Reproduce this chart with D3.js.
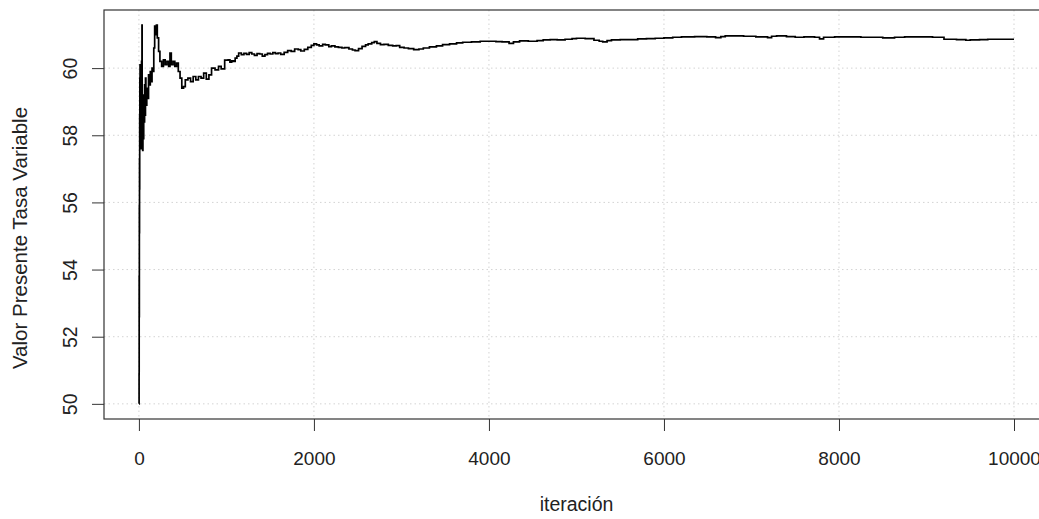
<!DOCTYPE html>
<html>
<head>
<meta charset="utf-8">
<script src="https://cdn.jsdelivr.net/npm/d3@7"></script>
<style>
  body { margin: 0; background: #fff; }
  text { font-family: "Liberation Sans", Arial, sans-serif; fill: #222; }
</style>
</head>
<body>
<div id="chart"></div>
<script>
// Iteraciones (eje x)
const iteraciones = [
  1, 2, 3, 4, 5, 6, 7, 8, 9, 10,
  11, 12, 13, 14, 15, 16, 18, 20, 22, 24,
  26, 28, 30, 33, 35, 37, 40, 43, 46, 50,
  55, 60, 65, 70, 75, 80, 90, 100, 110, 120,
  130, 140, 150, 160, 170, 180, 190, 200, 210, 225,
  240, 260, 280, 300, 320, 340, 355, 370, 390, 410,
  430, 450, 470, 490, 510, 530, 560, 590, 620, 650,
  680, 710, 740, 770, 800, 830, 870, 910, 940, 980,
  1020, 1040, 1060, 1080, 1100, 1120, 1140, 1170, 1200, 1230,
  1260, 1290, 1320, 1350, 1380, 1410, 1440, 1470, 1500, 1530,
  1560, 1590, 1620, 1660, 1700, 1740, 1780, 1820, 1850, 1890,
  1930, 1970, 2000, 2030, 2060, 2100, 2130, 2170, 2200, 2240,
  2280, 2320, 2350, 2400, 2440, 2470, 2510, 2550, 2590, 2620,
  2660, 2690, 2720, 2760, 2800, 2850, 2900, 2940, 2980, 3030,
  3080, 3140, 3200, 3250, 3320, 3400, 3470, 3550, 3630, 3700,
  3800, 3900, 4000, 4080, 4150, 4230, 4280, 4350, 4450, 4550,
  4620, 4700, 4780, 4870, 4950, 5000, 5100, 5200, 5260, 5300,
  5350, 5400, 5500, 5620, 5700, 5800, 5900, 6000, 6100, 6200,
  6350, 6490, 6590, 6650, 6700, 6800, 6910, 7050, 7184, 7230,
  7287, 7400, 7500, 7600, 7721, 7778, 7824, 7950, 8100, 8250,
  8372, 8500, 8635, 8750, 8900, 9069, 9200, 9343, 9450, 9500,
  9606, 9700, 9800, 10000
];

// Valor presente (tasa variable), promedio acumulado
const valores = [
  50.0, 50.9, 53.8, 52.6, 55.9, 55.1, 57.3, 56.4, 58.6, 57.8,
  59.7, 58.9, 60.1, 58.7, 59.5, 58.2, 59.3, 57.9, 58.8, 57.6,
  59.0, 58.3, 60.2, 59.8, 61.28, 59.0, 58.1, 57.55, 58.4, 57.9,
  59.2, 58.4, 59.5, 58.6, 59.7, 58.9, 59.4, 59.1, 59.8, 59.5,
  59.9, 59.6, 60.0, 59.9, 60.6, 61.25, 61.0, 61.28, 60.9, 60.5,
  60.2, 60.05, 60.25, 60.1, 60.2, 60.05, 60.45, 60.1, 60.2, 60.05,
  60.15, 59.9, 59.7, 59.4, 59.45, 59.65, 59.7, 59.6, 59.75, 59.65,
  59.75, 59.7, 59.85, 59.67, 59.8, 60.0, 59.95, 60.05, 59.98, 60.24,
  60.25, 60.18, 60.22, 60.2, 60.3, 60.36, 60.45, 60.4, 60.44, 60.41,
  60.46, 60.42, 60.38, 60.43, 60.42, 60.36, 60.4, 60.44, 60.42, 60.46,
  60.43, 60.45, 60.41, 60.47, 60.52, 60.5, 60.57, 60.55, 60.51, 60.56,
  60.62, 60.68, 60.72, 60.69, 60.66, 60.71, 60.69, 60.64, 60.66, 60.63,
  60.62, 60.6, 60.61, 60.57, 60.54, 60.52, 60.58, 60.65, 60.69, 60.72,
  60.76, 60.79, 60.74, 60.7, 60.71, 60.68, 60.66, 60.67, 60.62, 60.6,
  60.58, 60.55, 60.57, 60.6, 60.63, 60.66, 60.7, 60.72, 60.75, 60.77,
  60.78, 60.8, 60.8, 60.79, 60.78, 60.74, 60.78, 60.81, 60.8, 60.82,
  60.84, 60.85, 60.84, 60.86, 60.88, 60.89, 60.88, 60.83, 60.8, 60.78,
  60.82, 60.84, 60.85, 60.85, 60.87, 60.88, 60.89, 60.9, 60.92, 60.93,
  60.94, 60.93, 60.91, 60.94, 60.96, 60.96, 60.95, 60.93, 60.91, 60.95,
  60.96, 60.94, 60.92, 60.93, 60.92, 60.87, 60.92, 60.93, 60.93, 60.92,
  60.92, 60.9, 60.92, 60.93, 60.93, 60.92, 60.86, 60.85, 60.83, 60.84,
  60.85, 60.86, 60.86, 60.86
];

// Marcas de los ejes
const xTicks = [0, 2000, 4000, 6000, 8000, 10000];
const yTicks = [50, 52, 54, 56, 58, 60];

const data = iteraciones.map((it, i) => ({ it, v: valores[i] }));

// Tamaño del SVG y región del gráfico (el borde derecho queda fuera de la ventana)
const width = 1039;
const height = 519;
const plot = { left: 104, right: 1049, top: 10, bottom: 419 };

const svg = d3.select("#chart")
  .append("svg")
  .attr("width", width)
  .attr("height", height);

// Escalas con la extensión del 4% como en R
const xExt = d3.extent(iteraciones);
const xPad = (xExt[1] - xExt[0]) * 0.04;
const x = d3.scaleLinear()
  .domain([xExt[0] - xPad, xExt[1] + xPad])
  .range([plot.left, plot.right]);

const yExt = d3.extent(valores);
const yPad = (yExt[1] - yExt[0]) * 0.04;
const y = d3.scaleLinear()
  .domain([yExt[0] - yPad, yExt[1] + yPad])
  .range([plot.bottom, plot.top]);

// Cuadrícula punteada
svg.append("g")
  .selectAll("line")
  .data(xTicks)
  .join("line")
  .attr("x1", d => x(d)).attr("x2", d => x(d))
  .attr("y1", plot.top).attr("y2", plot.bottom)
  .attr("stroke", "#d3d3d3")
  .attr("stroke-dasharray", "1.5,3");

svg.append("g")
  .selectAll("line")
  .data(yTicks)
  .join("line")
  .attr("x1", plot.left).attr("x2", plot.right)
  .attr("y1", d => y(d)).attr("y2", d => y(d))
  .attr("stroke", "#d3d3d3")
  .attr("stroke-dasharray", "1.5,3");

// Línea de la serie
svg.append("path")
  .datum(data)
  .attr("fill", "none")
  .attr("stroke", "#000")
  .attr("stroke-width", 1.7)
  .attr("d", d3.line().x(d => x(d.it)).y(d => y(d.v)).curve(d3.curveStepAfter));

// Marco
svg.append("rect")
  .attr("x", plot.left)
  .attr("y", plot.top)
  .attr("width", plot.right - plot.left)
  .attr("height", plot.bottom - plot.top)
  .attr("fill", "none")
  .attr("stroke", "#333")
  .attr("stroke-width", 1.2);

// Eje x
const xAxis = svg.append("g")
  .attr("transform", `translate(0,${plot.bottom})`)
  .call(d3.axisBottom(x).tickValues(xTicks).tickSize(12).tickFormat(d3.format("d")));
xAxis.select(".domain").remove();
xAxis.selectAll(".tick line").attr("stroke", "#333");
xAxis.selectAll(".tick text")
  .attr("font-size", "19px")
  .attr("font-family", "Liberation Sans, Arial, sans-serif")
  .attr("fill", "#222")
  .attr("y", 46)
  .attr("dy", 0);

// Eje y
const yAxis = svg.append("g")
  .attr("transform", `translate(${plot.left},0)`)
  .call(d3.axisLeft(y).tickValues(yTicks).tickSize(12));
yAxis.select(".domain").remove();
yAxis.selectAll(".tick line").attr("stroke", "#333");
yAxis.selectAll(".tick text")
  .attr("font-size", "19.5px")
  .attr("font-family", "Liberation Sans, Arial, sans-serif")
  .attr("fill", "#222")
  .attr("text-anchor", "middle")
  .attr("x", 0).attr("dy", 0)
  .attr("transform", `translate(${77 - plot.left},0) rotate(-90)`);

// Títulos de los ejes
svg.append("text")
  .attr("x", (plot.left + plot.right) / 2)
  .attr("y", 511)
  .attr("text-anchor", "middle")
  .attr("font-size", "19.5px")
  .text("iteración");

svg.append("text")
  .attr("transform", "translate(27,238) rotate(-90)")
  .attr("text-anchor", "middle")
  .attr("font-size", "20.5px")
  .text("Valor Presente Tasa Variable");
</script>
</body>
</html>
